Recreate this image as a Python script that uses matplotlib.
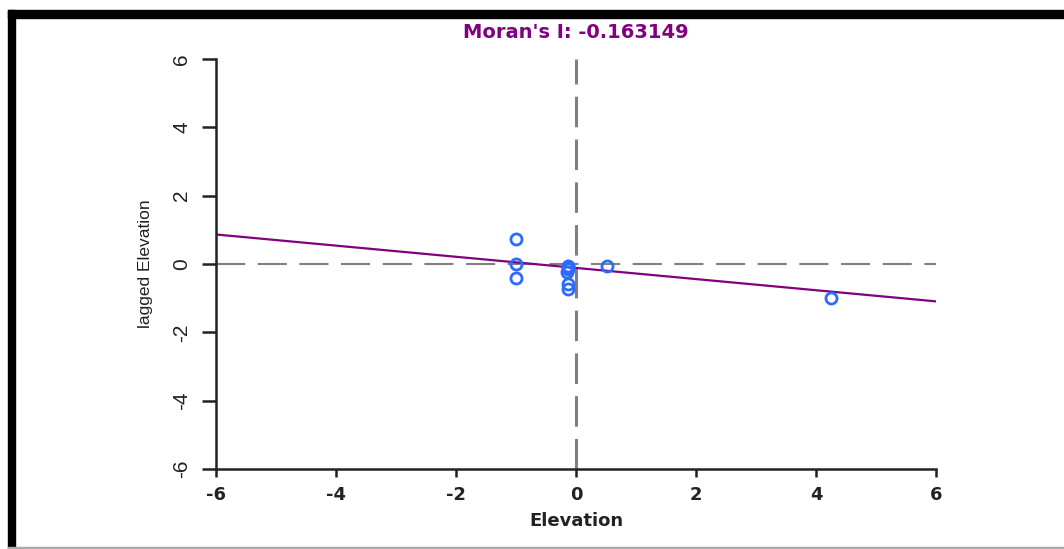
import numpy as np
import matplotlib.pyplot as plt
from matplotlib.patches import Rectangle

plt.rcParams['font.family'] = ['DejaVu Sans']
plt.rcParams['axes.unicode_minus'] = False

# Moran scatterplot: standardised elevation vs spatially lagged elevation
elevation = [-1.0, -1.0, -1.0, -0.13, -0.13, -0.13, -0.15, -0.13, -0.13, 0.52, 4.25]
lagged = [0.73, 0.0, -0.41, -0.05, -0.10, -0.16, -0.22, -0.58, -0.73, -0.07, -1.0]
moran_i = -0.163149
intercept = -0.115
ticks = [-6, -4, -2, 0, 2, 4, 6]

arial = ['Liberation Sans', 'DejaVu Sans']

fig = plt.figure(figsize=(10.64, 5.49), dpi=100)
ax = fig.add_axes([216 / 1064, 80 / 549, 720 / 1064, 410 / 549])

ax.axhline(0, color='#808080', lw=1.5, dashes=(14, 6))
ax.axvline(0, color='#808080', lw=2.2, dashes=(10, 4))
ax.axline((0, intercept), slope=moran_i, color='#800080', lw=1.6)
ax.plot(elevation, lagged, 'o', mfc='none', mec='#2b6cff', ms=8, mew=2)

ax.set_xlim(-6, 6)
ax.set_ylim(-6, 6)
ax.set_xticks(ticks)
ax.set_yticks(ticks)
for s in ['top', 'right']:
    ax.spines[s].set_visible(False)
ax.spines['left'].set_linewidth(1.8)
ax.spines['bottom'].set_linewidth(1.8)
ax.spines['left'].set_color('#222222')
ax.spines['bottom'].set_color('#222222')
ax.tick_params(axis='x', length=6, width=1.8, pad=6, color='#222222',
               labelsize=13, labelcolor='#222222')
ax.tick_params(axis='y', length=10, width=1.8, pad=8, color='#222222',
               labelsize=15, labelcolor='#222222', labelrotation=90,
               labelfontfamily='Liberation Sans')
for lab in ax.get_xticklabels():
    lab.set_fontweight('bold')
for lab in ax.get_yticklabels():
    lab.set_va('center')

ax.set_xlabel('Elevation', fontsize=13, fontweight='bold', color='#222222', labelpad=6)
ax.set_ylabel('lagged Elevation', fontsize=12.5, family=arial, color='#222222', labelpad=14)
fig.text(576 / 1064, 1 - 33 / 549, "Moran's I: -0.163149", color='#800080',
         fontsize=14, fontweight='bold', ha='center', va='center')

# black frame of the screenshot
fig.patches.append(Rectangle((8 / 1064, 1 - 18 / 549), 1, 8 / 549, transform=fig.transFigure,
                             color='black', zorder=0))
fig.patches.append(Rectangle((8 / 1064, 0), 7 / 1064, 1 - 10 / 549, transform=fig.transFigure,
                             color='black', zorder=0))
fig.patches.append(Rectangle((8 / 1064, 0), 1, 2 / 549, transform=fig.transFigure,
                             color='#aaaaaa', zorder=0))

fig.savefig('out.png', dpi=100)
